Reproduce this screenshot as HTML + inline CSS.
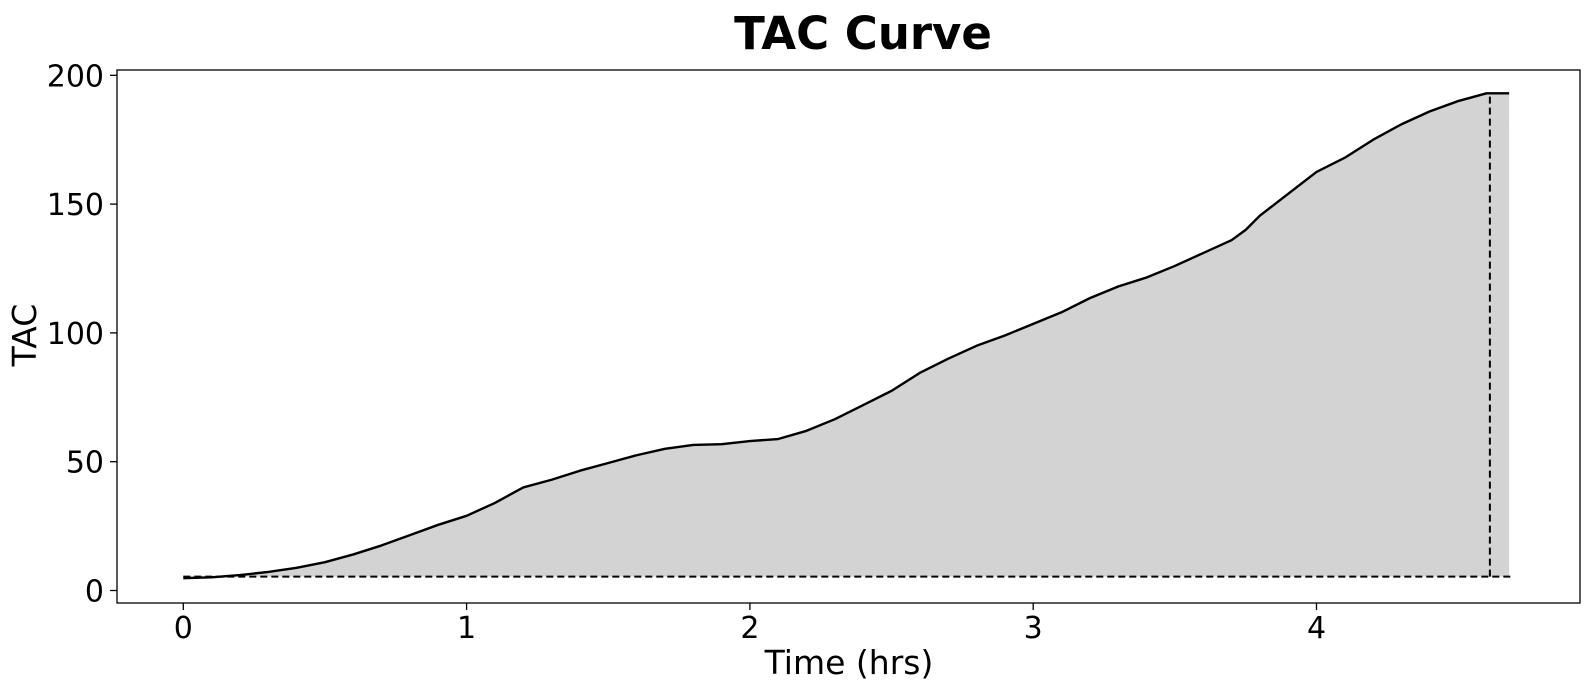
<!DOCTYPE html>
<html><head><meta charset="utf-8"><style>
body{margin:0;background:#fff;}
svg{display:block;font-family:"DejaVu Sans","Liberation Sans",sans-serif;}
</style></head><body>
<svg id="chart" width="1590" height="690" viewBox="0 0 1590 690" xmlns="http://www.w3.org/2000/svg">
<text x="863" y="49" font-size="45" font-weight="bold" text-anchor="middle">TAC Curve</text>
<g id="plot"></g>
<rect x="117" y="70" width="1463" height="533" fill="none" stroke="#000" stroke-width="1.3"/>
<text x="849" y="674" font-size="33" text-anchor="middle">Time (hrs)</text>
<text transform="translate(36,335) rotate(-90)" font-size="33" text-anchor="middle">TAC</text>
</svg>
<script>
const times=[0,0.1,0.2,0.3,0.4,0.5,0.6,0.7,0.8,0.9,1.0,1.1,1.2,1.3,1.4,1.5,1.6,1.7,1.8,1.9,2.0,2.1,2.2,2.3,2.4,2.5,2.6,2.7,2.8,2.9,3.0,3.1,3.2,3.3,3.4,3.5,3.6,3.7,3.75,3.8,3.9,4.0,4.1,4.2,4.3,4.4,4.5,4.6,4.68];
const tac=[4.8,5.1,6,7.2,8.8,11,14,17.5,21.5,25.5,29,34,40,43,46.5,49.5,52.5,55,56.5,56.8,58,58.8,62,66.5,72,77.5,84.5,90,95,99,103.5,108,113.5,118,121.5,126,131,136,140,145.5,154,162.5,168,175,181,186,190,193,193];
const baselineValue=[5.4];
const peakTime=[4.612];
const xTicks=[0,1,2,3,4];
const yTicks=[0,50,100,150,200];
const NS="http://www.w3.org/2000/svg";
const X=t=>183.3+t*283.3;
const Y=v=>590.5-v*2.576;
const g=document.getElementById('plot');
function mk(tag,attrs){const e=document.createElementNS(NS,tag);for(const k in attrs)e.setAttribute(k,attrs[k]);g.appendChild(e);return e;}
const b=baselineValue[0];
const last=times.length-1;
let fd=`M${X(times[0])},${Y(b)}`;
times.forEach((t,i)=>{fd+=` L${X(t)},${Y(Math.max(tac[i],b))}`;});
fd+=` L${X(times[last])},${Y(b)} Z`;
const fill=mk('path',{d:fd,fill:'#d3d3d3'});


const bl=mk('line',{x1:X(0),x2:X(times[last])+3,y1:Y(b),y2:Y(b),stroke:'#000','stroke-width':2,'stroke-dasharray':'7,4'});


let pk=0;times.forEach((t,i)=>{if(Math.abs(t-peakTime[0])<Math.abs(times[pk]-peakTime[0]))pk=i;});
const vl=mk('line',{x1:X(peakTime[0]),x2:X(peakTime[0]),y1:Y(b),y2:Y(tac[pk]),stroke:'#000','stroke-width':2,'stroke-dasharray':'7,4'});


const line=mk('polyline',{points:times.map((t,i)=>X(t)+','+Y(tac[i])).join(' '),fill:'none',stroke:'#000','stroke-width':2.4,'stroke-linejoin':'round'});


xTicks.forEach(t=>{
  const tk=mk('line',{x1:X(t),x2:X(t),y1:603,y2:610,stroke:'#000','stroke-width':1.3});
  
  
  const tl=mk('text',{x:X(t),y:638,'font-size':30,'text-anchor':'middle'});
  tl.textContent=t;
  
  
});
yTicks.forEach(v=>{
  const tk=mk('line',{x1:110,x2:117,y1:Y(v),y2:Y(v),stroke:'#000','stroke-width':1.3});
  
  
  const tl=mk('text',{x:104,y:Y(v)+11,'font-size':30,'text-anchor':'end'});
  tl.textContent=v;
  
  
});
</script>
</body></html>
